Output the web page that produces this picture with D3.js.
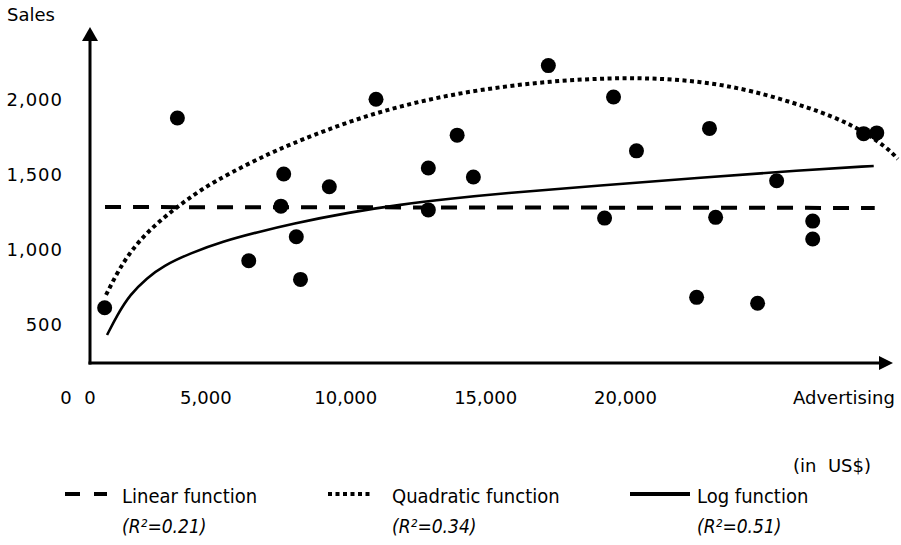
<!DOCTYPE html>
<html lang="en">
<head>
    <meta charset="UTF-8">
    <title>Sales vs Advertising</title>
    <script src="https://d3js.org/d3.v7.min.js"></script>
    <style>
        body { margin: 0; background: #fff; }
        text { font-family: "DejaVu Sans", sans-serif; fill: #000; }
        .legend text { font-family: "DejaVu Sans Condensed", "DejaVu Sans", sans-serif; }
    </style>
</head>
<body>
    <div id="chart"></div>

    <script>
        // Data
        const advertising = [1400, 4000, 6550, 7700, 7800, 8250, 8400, 9430, 11100, 12970, 12970, 14000, 14580,
            17260, 19270, 19590, 20410, 22560, 23020, 23240, 24740, 25420, 26710, 26710, 28530, 29000];
        const sales = [610, 1880, 925, 1290, 1505, 1085, 800, 1420, 2005, 1545, 1265, 1765, 1485,
            2230, 1210, 2020, 1660, 680, 1810, 1215, 640, 1460, 1190, 1070, 1775, 1780];

        // trend lines, points
        const linearX = [1413, 28927];
        const linearY = [1284, 1278];
        const quadX = [1449, 1449, 1843, 2200, 2665, 3274, 3989, 4812, 5886, 7317, 8390, 10179, 11968, 13757,
            15546, 17335, 19124, 20913, 22702, 24491, 26638, 28176, 29393, 29751, 29751];
        const quadY = [696, 696, 843, 950, 1064, 1177, 1284, 1398, 1512, 1646, 1730, 1860, 1960, 2035,
            2088, 2125, 2145, 2148, 2125, 2067, 1947, 1833, 1679, 1605, 1605];
        const logX = [1485, 1485, 1843, 2308, 2916, 3488, 4454, 5635, 6852, 8033, 10179, 11968, 13757, 15546,
            19124, 22702, 26280, 28891, 28891];
        const logY = [428, 428, 560, 700, 810, 890, 975, 1055, 1115, 1170, 1250, 1300, 1340, 1375,
            1428, 1480, 1530, 1559, 1559];

        const xTicks = [5000, 10000, 15000, 20000];
        const yTicks = [500, 1000, 1500, 2000];
        const legendLabels = ["Linear function", "Quadratic function", "Log function"];
        const legendR2 = ["0.21", "0.34", "0.51"];

        const width = 901;
        const height = 545;

        const svg = d3.select("#chart")
            .append("svg")
            .attr("width", width)
            .attr("height", height);

        // scales
        const x = d3.scaleLinear().domain([0, 20000]).range([65.5, 625]);
        const y = d3.scaleLinear().domain([0, 2000]).range([399, 100]);

        // drawn axis lines sit a bit inside the scale origin
        const axisLeftX = 90;
        const axisBottomY = 363;

        // axes with arrows
        svg.append("line")
            .attr("x1", axisLeftX).attr("y1", axisBottomY + 1.5)
            .attr("x2", axisLeftX).attr("y2", 38)
            .attr("stroke", "#000").attr("stroke-width", 3);
        svg.append("path")
            .attr("d", `M${axisLeftX},27 L${axisLeftX - 8},41 L${axisLeftX + 8},41 Z`)
            .attr("fill", "#000");
        svg.append("line")
            .attr("x1", axisLeftX - 1.5).attr("y1", axisBottomY)
            .attr("x2", 882).attr("y2", axisBottomY)
            .attr("stroke", "#000").attr("stroke-width", 3);
        svg.append("path")
            .attr("d", `M893,${axisBottomY} L879,${axisBottomY - 7} L879,${axisBottomY + 7} Z`)
            .attr("fill", "#000");

        // tick labels
        const xAxis = svg.append("g")
            .attr("transform", "translate(0,404)")
            .call(d3.axisBottom(x).tickValues([0].concat(xTicks)).tickSize(0).tickFormat(d3.format(",")));
        xAxis.select(".domain").remove();
        xAxis.selectAll("text")
            .attr("y", 0).attr("dy", null)
            .attr("font-size", 18)
            .attr("font-family", "DejaVu Sans");

        const yAxis = svg.append("g")
            .attr("transform", "translate(63,0)")
            .call(d3.axisLeft(y).tickValues(yTicks).tickSize(0).tickPadding(0).tickFormat(d3.format(",")));
        yAxis.select(".domain").remove();
        yAxis.selectAll("text")
            .attr("font-size", 18)
            .attr("font-family", "DejaVu Sans")
            .attr("letter-spacing", 1);

        // origin label at the drawn corner
        svg.append("text")
            .attr("x", axisLeftX).attr("y", 404)
            .attr("text-anchor", "middle")
            .attr("font-size", 18)
            .text("0");

        svg.append("text").attr("x", 7).attr("y", 21).attr("font-size", 18).text("Sales");
        svg.append("text").attr("x", 793).attr("y", 404).attr("font-size", 18).text("Advertising");
        svg.append("text").attr("x", 793).attr("y", 472).attr("font-size", 18)
            .style("white-space", "pre").text("(in  US$)");

        // trend lines
        const line = d3.line()
            .x(d => x(d[0]))
            .y(d => y(d[1]))
            .curve(d3.curveBasis);

        svg.append("path")
            .datum(d3.zip(linearX, linearY))
            .attr("d", line)
            .attr("fill", "none")
            .attr("stroke", "#000")
            .attr("stroke-width", 4)
            .attr("stroke-dasharray", "16,12");

        svg.append("path")
            .datum(d3.zip(quadX, quadY))
            .attr("d", line)
            .attr("fill", "none")
            .attr("stroke", "#000")
            .attr("stroke-width", 4)
            .attr("stroke-dasharray", "4,3.5");

        svg.append("path")
            .datum(d3.zip(logX, logY))
            .attr("d", line)
            .attr("fill", "none")
            .attr("stroke", "#000")
            .attr("stroke-width", 2.6);

        // scatter points
        svg.append("g")
            .selectAll("circle")
            .data(d3.zip(advertising, sales))
            .join("circle")
            .attr("cx", d => x(d[0]))
            .attr("cy", d => y(d[1]))
            .attr("r", 7.5)
            .attr("fill", "#000");

        // legend
        const legendSymbolX = [65, 328, 630];
        const legendTextX = [122, 392, 697];
        const legendDash = ["15,14", "4,3.5", null];
        const legendWidth = [42, 44, 60];
        const legend = svg.append("g").attr("class", "legend");

        legendLabels.forEach((label, i) => {
            legend.append("line")
                .attr("x1", legendSymbolX[i]).attr("x2", legendSymbolX[i] + legendWidth[i])
                .attr("y1", 494).attr("y2", 494)
                .attr("stroke", "#000")
                .attr("stroke-width", 4)
                .attr("stroke-dasharray", legendDash[i]);
            legend.append("text")
                .attr("x", legendTextX[i]).attr("y", 503)
                .attr("font-size", 20)
                .text(label);
            legend.append("text")
                .attr("x", legendTextX[i]).attr("y", 533)
                .attr("font-size", 19)
                .attr("font-style", "italic")
                .text(`(R²=${legendR2[i]})`);
        });
    </script>
</body>
</html>
